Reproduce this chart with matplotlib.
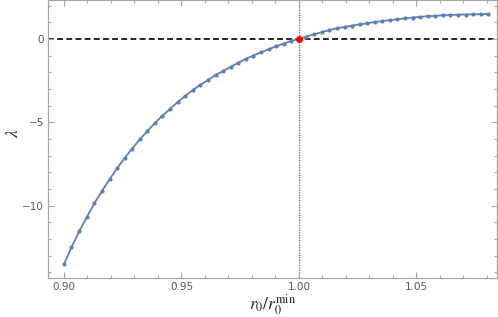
import numpy as np
import matplotlib
matplotlib.use("Agg")
import matplotlib.pyplot as plt
from matplotlib.ticker import MultipleLocator, FixedLocator

plt.rcParams['mathtext.fontset'] = 'stix'

# r0 / r0^min
ratio = [0.9000, 0.9032, 0.9065, 0.9097, 0.9129, 0.9161, 0.9194, 0.9226,
         0.9258, 0.9290, 0.9323, 0.9355, 0.9387, 0.9419, 0.9452, 0.9484,
         0.9516, 0.9548, 0.9581, 0.9613, 0.9645, 0.9677, 0.9710, 0.9742,
         0.9774, 0.9806, 0.9839, 0.9871, 0.9903, 0.9935, 0.9968, 1.0000,
         1.0032, 1.0065, 1.0097, 1.0129, 1.0161, 1.0194, 1.0226, 1.0258,
         1.0290, 1.0323, 1.0355, 1.0387, 1.0419, 1.0452, 1.0484, 1.0516,
         1.0548, 1.0581, 1.0613, 1.0645, 1.0677, 1.0710, 1.0742, 1.0774,
         1.0806]

# lambda
lam = [-13.52, -12.50, -11.54, -10.70, -9.87, -9.14, -8.42, -7.76,
       -7.15, -6.58, -6.03, -5.53, -5.05, -4.61, -4.19, -3.79,
       -3.43, -3.07, -2.75, -2.47, -2.17, -1.93, -1.67, -1.43,
       -1.20, -1.00, -0.81, -0.62, -0.45, -0.28, -0.12, 0.00,
       0.14, 0.27, 0.40, 0.53, 0.63, 0.71, 0.79, 0.87,
       0.93, 1.01, 1.07, 1.12, 1.18, 1.23, 1.28, 1.32,
       1.36, 1.38, 1.41, 1.43, 1.45, 1.46, 1.47, 1.48,
       1.49]

# marked point
crit_x = [1.0]
crit_y = [0.0]

blue = '#5e81b5'
frame_col = '#a6a6a6'
text_col = '#555555'

fig = plt.figure(figsize=(4.98, 3.17), dpi=100)
ax = fig.add_axes([48/498, 39/317, 449/498, 278/317])

ax.axhline(0, color='black', linestyle=(0, (3.5, 2)), linewidth=1.2, zorder=1)
ax.axvline(1.0, color='#666666', linestyle=(0, (1, 1)), linewidth=0.9, zorder=1)

ax.plot(ratio, lam, color=blue, linewidth=1.3, marker='o', markersize=3.0,
        markeredgewidth=0, zorder=3)
ax.plot(crit_x, crit_y, 'o', color='#ff0000', markersize=5.0,
        markeredgewidth=0, zorder=4)

ax.set_xlim(0.8932, 1.0843)
ax.set_ylim(-14.34, 2.33)

ax.xaxis.set_major_locator(FixedLocator([0.90, 0.95, 1.00, 1.05]))
ax.xaxis.set_minor_locator(MultipleLocator(0.01))
ax.yaxis.set_major_locator(FixedLocator([0, -5, -10]))
ax.yaxis.set_minor_locator(MultipleLocator(1))
ax.set_xticklabels(['0.90', '0.95', '1.00', '1.05'])

ax.tick_params(which='both', direction='in', top=True, right=True,
               color=frame_col, labelcolor=text_col, labelsize=7.5, width=0.8)
ax.tick_params(which='major', length=4, pad=3)
ax.tick_params(which='minor', length=2)

for s in ax.spines.values():
    s.set_color(frame_col)
    s.set_linewidth(0.9)

ax.set_xlabel(r'$r_0/r_0^{\min}$', fontsize=12.5, color='#222222', labelpad=0)
# y label placed by hand so it sits where the reference has it
fig.text(13/498, 1 - 133/317, r'$\lambda$', fontsize=12.5, color='#222222',
         rotation=90, ha='center', va='center')

fig.savefig('out.png', dpi=100)
